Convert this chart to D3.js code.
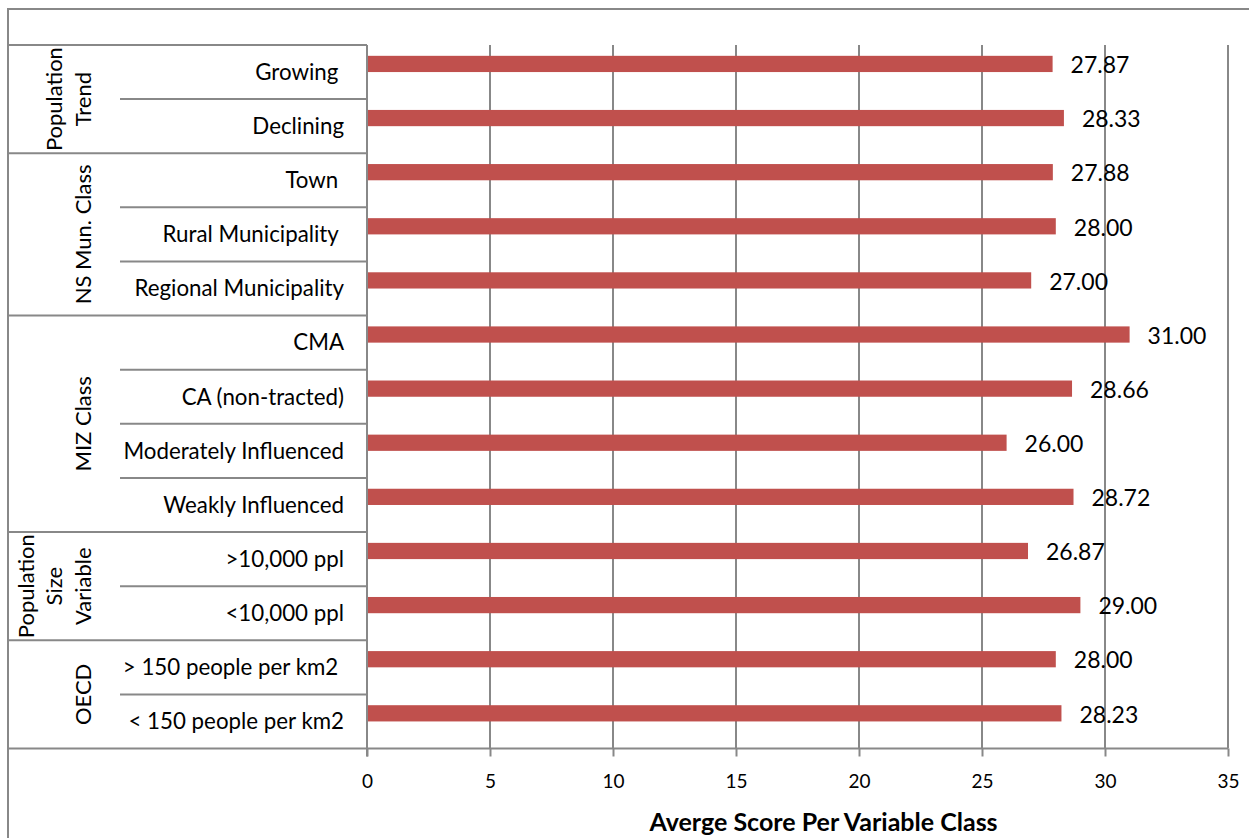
<!DOCTYPE html>
<html>
<head>
<meta charset="utf-8">
<script src="https://cdn.jsdelivr.net/npm/d3@7"></script>
<style>
  html, body { margin: 0; padding: 0; background: #fff; }
  svg { display: block; font-family: Lato, "Open Sans", sans-serif; }
  text { white-space: pre; }
</style>
</head>
<body>
<svg id="chart" width="1249" height="838"></svg>
<script>
// Category rows, top to bottom
const categories = [
  "Growing ", "Declining",
  "Town ", "Rural Municipality ", "Regional Municipality",
  "CMA", "CA (non-tracted)", "Moderately Influenced", "Weakly Influenced",
  ">10,000 ppl", "<10,000 ppl",
  "> 150 people per km2 ", "< 150 people per km2"
];
// Average score for each row
const values = [27.87, 28.33, 27.88, 28.00, 27.00, 31.00, 28.66, 26.00, 28.72, 26.87, 29.00, 28.00, 28.23];
// Grouping of rows (label lines, number of rows)
const groupLabels = [["Population", "Trend"], ["NS Mun. Class"], ["MIZ Class"], ["Population", "Size", "Variable"], ["OECD"]];
const groupSizes = [2, 3, 4, 2, 2];
const tickValues = [0, 5, 10, 15, 20, 25, 30, 35];
const axisTitle = "Averge Score Per Variable Class";

const svg = d3.select("#chart");
const lineColor = "#888888";
const barColor = "#C0504D";

const frameLeft = 8, frameTop = 9;
const plotLeft = 367, plotRight = 1228, plotTop = 45, plotBottom = 748.5;
const tableLeft = frameLeft, subLeft = 120;

const x = d3.scaleLinear().domain([0, 35]).range([plotLeft, plotRight]);
const y = d3.scaleBand().domain(d3.range(categories.length)).range([plotTop, plotBottom]).padding(0);
const bw = y.bandwidth();

// Outer frame (top and left edges)
svg.append("path")
  .attr("d", `M${frameLeft},838 V${frameTop} H1249`)
  .attr("fill", "none").attr("stroke", lineColor).attr("stroke-width", 2);

// Vertical gridlines
svg.append("g").selectAll("line")
  .data(tickValues.filter(d => d > 0))
  .join("line")
  .attr("x1", d => x(d)).attr("x2", d => x(d))
  .attr("y1", plotTop).attr("y2", plotBottom)
  .attr("stroke", lineColor).attr("stroke-width", 2);

// Bars
svg.append("g").selectAll("rect")
  .data(values)
  .join("rect")
  .attr("x", x(0))
  .attr("y", (d, i) => y(i) + bw * 0.2)
  .attr("width", d => x(d) - x(0))
  .attr("height", bw * 0.3)
  .attr("fill", barColor);

// Value labels
svg.append("g").selectAll("text")
  .data(values)
  .join("text")
  .attr("x", d => x(d) + 18)
  .attr("y", (d, i) => y(i) + bw * 0.35 + 1)
  .attr("dy", "0.36em")
  .attr("font-size", 23)
  .attr("fill", "#000")
  .text(d => d.toFixed(2));

// Bottom value axis
const xAxis = d3.axisBottom(x).tickValues(tickValues).tickSize(8).tickPadding(18).tickFormat(d3.format("d"));
const gx = svg.append("g").attr("transform", `translate(0,${plotBottom})`).call(xAxis);
gx.select(".domain").attr("stroke", lineColor).attr("stroke-width", 2).attr("d", `M${plotLeft},0 H${plotRight}`);
gx.selectAll(".tick line").attr("stroke", lineColor).attr("stroke-width", 2);
gx.selectAll(".tick text").attr("font-size", 19).attr("font-family", "Lato, sans-serif").attr("fill", "#000");

// Axis title
svg.append("text")
  .attr("x", 823.5)
  .attr("y", 822)
  .attr("dy", "0.35em")
  .attr("text-anchor", "middle")
  .attr("font-size", 25)
  .attr("font-weight", "bold")
  .text(axisTitle);

// Category table: vertical axis line, top and bottom rules
svg.append("line")
  .attr("x1", plotLeft).attr("x2", plotLeft)
  .attr("y1", plotTop).attr("y2", plotBottom + 8)
  .attr("stroke", lineColor).attr("stroke-width", 2);
svg.append("line")
  .attr("x1", tableLeft).attr("x2", plotLeft)
  .attr("y1", plotTop).attr("y2", plotTop)
  .attr("stroke", lineColor).attr("stroke-width", 2);
svg.append("line")
  .attr("x1", tableLeft).attr("x2", plotLeft)
  .attr("y1", plotBottom).attr("y2", plotBottom)
  .attr("stroke", lineColor).attr("stroke-width", 2);

// Group boundaries and row separators
const groupStarts = [];
let acc = 0;
groupSizes.forEach(n => { groupStarts.push(acc); acc += n; });

const rowSeps = [];
const groupSeps = [];
groupStarts.forEach((s, gi) => {
  if (gi > 0) groupSeps.push(s);
  for (let k = 1; k < groupSizes[gi]; k++) rowSeps.push(s + k);
});

svg.append("g").selectAll("line")
  .data(groupSeps)
  .join("line")
  .attr("x1", tableLeft).attr("x2", plotLeft)
  .attr("y1", d => y(d)).attr("y2", d => y(d))
  .attr("stroke", lineColor).attr("stroke-width", 2);

svg.append("g").selectAll("line")
  .data(rowSeps)
  .join("line")
  .attr("x1", subLeft).attr("x2", plotLeft)
  .attr("y1", d => y(d)).attr("y2", d => y(d))
  .attr("stroke", lineColor).attr("stroke-width", 2);

// Row labels
svg.append("g").selectAll("text")
  .data(categories)
  .join("text")
  .attr("x", 344)
  .attr("y", (d, i) => y(i) + bw / 2)
  .attr("dy", "0.35em")
  .attr("text-anchor", "end")
  .attr("font-size", 22.3)
  .attr("fill", "#000")
  .text(d => d);

// Rotated group labels
const lineGap = 28.5;
const gGroups = svg.append("g");
groupLabels.forEach((lines, gi) => {
  const s = groupStarts[gi];
  const cy = (y(s) + y(s + groupSizes[gi] - 1) + bw) / 2;
  lines.forEach((ln, li) => {
    const cx = 83 - (lines.length - 1 - li) * lineGap;
    gGroups.append("text")
      .attr("transform", `translate(${cx},${cy}) rotate(-90)`)
      .attr("dy", "0.35em")
      .attr("text-anchor", "middle")
      .attr("font-size", 22)
      .attr("fill", "#000")
      .text(ln);
  });
});
</script>
</body>
</html>
